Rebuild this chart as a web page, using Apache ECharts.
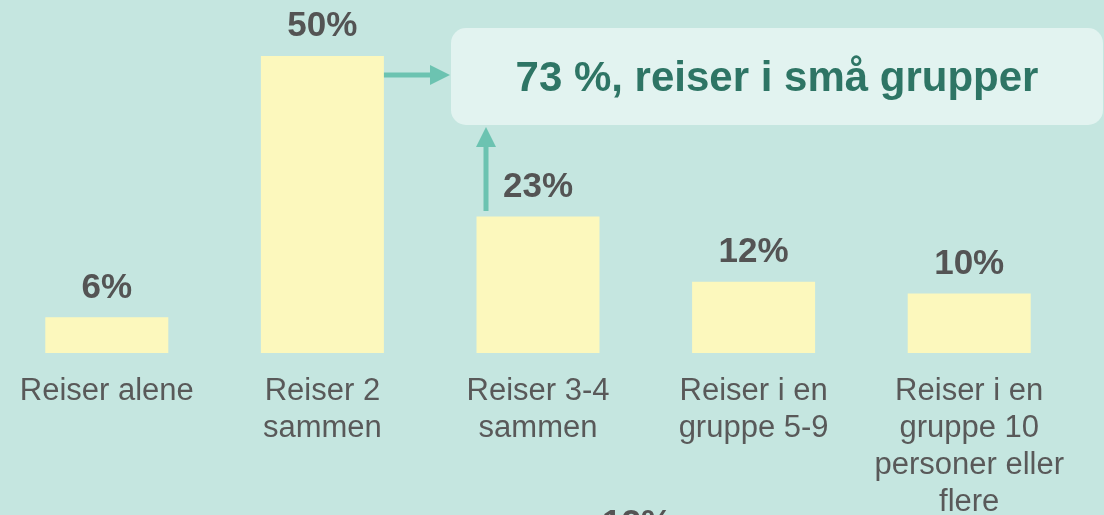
<!DOCTYPE html>
<html lang="no" style="height: 100%">
<head>
	<meta charset="utf-8">
	<title>Reiser i grupper</title>
</head>
<body style="height: 100%; margin: 0; background: #c5e6e0">
<div id="container" style="width: 1104px; height: 515px"></div>

<script src="https://cdn.jsdelivr.net/npm/echarts@6/dist/echarts.min.js"></script>
<script type="text/javascript">
	var categories = ['Reiser alene', 'Reiser 2\nsammen', 'Reiser 3-4\nsammen', 'Reiser i en\ngruppe 5-9', 'Reiser i en\ngruppe 10\npersoner eller\nflere'];
	var values = [6, 50, 23, 12, 10];
	var calloutText = '73 %, reiser i små grupper';

	var dom = document.getElementById('container');
	var myChart = echarts.init(dom, null, { renderer: 'canvas' });
	var font = '"Liberation Sans", Arial, sans-serif';
	var arrowColor = '#6cc3b1';

	var option = {
		backgroundColor: '#c5e6e0',
		animation: false,
		grid: { left: -1, right: 27, top: 56, bottom: 162, outerBoundsMode: 'none', containLabel: false },
		xAxis: {
			type: 'category',
			data: categories,
			axisLine: { show: false },
			axisTick: { show: false },
			axisLabel: {
				interval: 0,
				margin: 20,
				color: '#595959',
				fontFamily: font,
				fontSize: 31,
				lineHeight: 37
			}
		},
		yAxis: {
			type: 'value',
			min: 0,
			max: 50,
			show: false,
			splitLine: { show: false }
		},
		series: [{
			type: 'bar',
			data: values,
			barWidth: 123,
			itemStyle: { color: '#fcf8bd' },
			label: {
				show: true,
				position: 'top',
				distance: 12,
				formatter: '{c}%',
				color: '#545454',
				fontFamily: font,
				fontWeight: 'bold',
				fontSize: 35
			}
		}],
		graphic: [
			{
				type: 'rect',
				shape: { x: 451, y: 28, width: 652, height: 97, r: 15 },
				style: { fill: '#e2f3f0' }
			},
			{
				type: 'text',
				x: 777, y: 79,
				style: {
					text: calloutText,
					fill: '#2e7565',
					font: 'bold 42px ' + font,
					textAlign: 'center',
					textVerticalAlign: 'middle'
				}
			},
			// horizontal arrow
			{
				type: 'line',
				shape: { x1: 382, y1: 75, x2: 432, y2: 75 },
				style: { stroke: arrowColor, lineWidth: 5 }
			},
			{
				type: 'polygon',
				shape: { points: [[430, 65], [450, 75], [430, 85]] },
				style: { fill: arrowColor }
			},
			// vertical arrow
			{
				type: 'line',
				shape: { x1: 486, y1: 211, x2: 486, y2: 145 },
				style: { stroke: arrowColor, lineWidth: 5 }
			},
			{
				type: 'polygon',
				shape: { points: [[476, 147], [486, 127], [496, 147]] },
				style: { fill: arrowColor }
			},
			// label cut off at the bottom edge
			{
				type: 'text',
				x: 637, y: 507,
				style: {
					text: '12%',
					fill: '#545454',
					font: 'bold 35px ' + font,
					textAlign: 'center',
					textVerticalAlign: 'top'
				}
			}
		]
	};

	myChart.setOption(option);
	window.addEventListener('resize', myChart.resize);
</script>
</body>
</html>
